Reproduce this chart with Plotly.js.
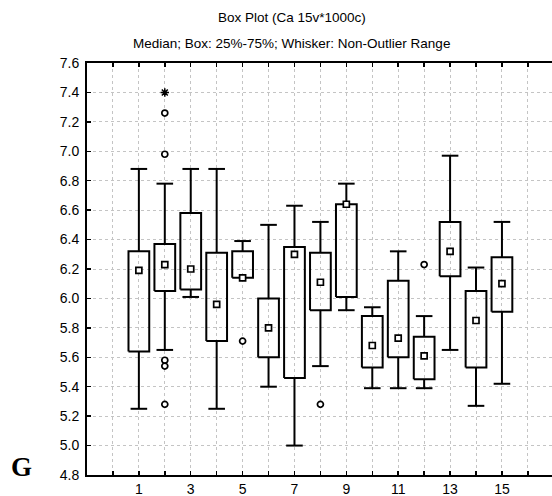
<!DOCTYPE html>
<html>
<head>
<meta charset="utf-8">
<script src="https://cdn.plot.ly/plotly-3.0.1.min.js"></script>
<style>
  html, body { margin: 0; padding: 0; background: #fff; }
  #chart { width: 552px; height: 496px; }
</style>
</head>
<body>
<div id="chart"></div>
<script>
// Ca 15v*1000c: box statistics per variable
const categories = [1, 2, 3, 4, 5, 6, 7, 8, 9, 10, 11, 12, 13, 14, 15];
const upperWhisker = [6.88, 6.78, 6.88, 6.88, 6.39, 6.50, 6.63, 6.52, 6.78, 5.94, 6.32, 5.88, 6.97, 6.21, 6.52];
const q3Values     = [6.32, 6.37, 6.58, 6.31, 6.32, 6.00, 6.35, 6.31, 6.64, 5.88, 6.12, 5.74, 6.52, 6.05, 6.28];
const medians      = [6.19, 6.23, 6.20, 5.96, 6.14, 5.80, 6.30, 6.11, 6.64, 5.68, 5.73, 5.61, 6.32, 5.85, 6.10];
const q1Values     = [5.64, 6.05, 6.06, 5.71, 6.14, 5.60, 5.46, 5.92, 6.01, 5.53, 5.60, 5.45, 6.15, 5.53, 5.91];
const lowerWhisker = [5.25, 5.65, 6.01, 5.25, 6.14, 5.40, 5.00, 5.54, 5.92, 5.39, 5.39, 5.39, 5.65, 5.27, 5.42];

// outliers (circles) and extremes (asterisks)
const outlierX = [2, 2, 2, 2, 2, 5, 8, 12];
const outlierY = [7.26, 6.98, 5.58, 5.54, 5.28, 5.71, 5.28, 6.23];
const extremeX = [2];
const extremeY = [7.40];

const yTicks = [4.8, 5.0, 5.2, 5.4, 5.6, 5.8, 6.0, 6.2, 6.4, 6.6, 6.8, 7.0, 7.2, 7.4, 7.6];
const xTicks = [0, 1, 2, 3, 4, 5, 6, 7, 8, 9, 10, 11, 12, 13, 14, 15, 16];

const BOX_HALF = 0.4;
const CAP_HALF = 0.32;

// Build box outlines, whiskers and caps as line paths in data coordinates
const boxX = [], boxY = [], whiskX = [], whiskY = [], capX = [], capY = [];
categories.forEach((c, i) => {
  boxX.push(c - BOX_HALF, c + BOX_HALF, c + BOX_HALF, c - BOX_HALF, c - BOX_HALF, null);
  boxY.push(q1Values[i], q1Values[i], q3Values[i], q3Values[i], q1Values[i], null);
  whiskX.push(c, c, null, c, c, null);
  whiskY.push(q3Values[i], upperWhisker[i], null, q1Values[i], lowerWhisker[i], null);
  capX.push(c - CAP_HALF, c + CAP_HALF, null);
  capY.push(upperWhisker[i], upperWhisker[i], null);
  if (lowerWhisker[i] < q1Values[i]) {
    capX.push(c - CAP_HALF, c + CAP_HALF, null);
    capY.push(lowerWhisker[i], lowerWhisker[i], null);
  }
});

const lineStyle = { color: '#000', width: 2 };
const traces = [
  { type: 'scatter', mode: 'lines', x: whiskX, y: whiskY, line: lineStyle, hoverinfo: 'skip' },
  { type: 'scatter', mode: 'lines', x: capX, y: capY, line: lineStyle, hoverinfo: 'skip' },
  { type: 'scatter', mode: 'lines', x: boxX, y: boxY, line: lineStyle, fill: 'none', hoverinfo: 'skip' },
  { type: 'scatter', mode: 'markers', x: categories, y: medians,
    marker: { symbol: 'square', size: 6, color: '#fff', line: { color: '#000', width: 1.7 } } },
  { type: 'scatter', mode: 'markers', x: outlierX, y: outlierY,
    marker: { symbol: 'circle', size: 6, color: '#fff', line: { color: '#000', width: 1.7 } } },
  { type: 'scatter', mode: 'markers', x: extremeX, y: extremeY,
    marker: { symbol: 'asterisk-open', size: 7, color: '#000', line: { color: '#000', width: 1.5 } } }
];

const tickFont = { family: 'Liberation Sans, Arial, sans-serif', size: 14, color: '#000' };
const titleFont = { family: 'Liberation Sans, Arial, sans-serif', size: 13.5, color: '#000' };

const layout = {
  width: 552,
  height: 496,
  margin: { l: 87, r: 0, t: 63, b: 21 },
  paper_bgcolor: '#fff',
  plot_bgcolor: '#fff',
  showlegend: false,
  xaxis: {
    range: [-1, 16.93],
    tickmode: 'array',
    tickvals: xTicks,
    ticktext: xTicks.map(v => (v % 2 === 1 ? String(v) : '')),
    ticks: 'inside',
    ticklen: 4,
    tickwidth: 1.5,
    tickcolor: '#000',
    showline: true,
    linecolor: '#000',
    linewidth: 2,
    mirror: 'ticks',
    showgrid: true,
    gridcolor: '#c4c4c4',
    griddash: 'dot',
    gridwidth: 1,
    zeroline: false,
    tickfont: tickFont,
    automargin: false
  },
  yaxis: {
    range: [4.8, 7.6],
    tickmode: 'array',
    tickvals: yTicks,
    ticktext: yTicks.map(v => v.toFixed(1)),
    ticks: 'inside',
    ticklen: 4,
    tickwidth: 1.5,
    tickcolor: '#000',
    showline: true,
    linecolor: '#000',
    linewidth: 2,
    mirror: false,
    showgrid: true,
    gridcolor: '#c4c4c4',
    griddash: 'dot',
    gridwidth: 1,
    zeroline: false,
    tickfont: tickFont,
    ticklabelstandoff: 3,
    automargin: false
  },
  annotations: [
    { xref: 'paper', yref: 'paper', x: (292 - 87) / 465, y: 1, yshift: 46,
      text: 'Box Plot (Ca 15v*1000c)', showarrow: false, xanchor: 'center', yanchor: 'middle',
      font: titleFont },
    { xref: 'paper', yref: 'paper', x: (291 - 87) / 465, y: 1, yshift: 20,
      text: 'Median; Box: 25%-75%; Whisker: Non-Outlier Range', showarrow: false,
      xanchor: 'center', yanchor: 'middle', font: titleFont },
    { xref: 'paper', yref: 'paper', x: 0, xshift: -66, y: 0, yshift: 8,
      text: '<b>G</b>', showarrow: false, xanchor: 'center', yanchor: 'middle',
      font: { family: 'Liberation Serif, Times New Roman, serif', size: 27, color: '#000' } }
  ]
};

Plotly.newPlot('chart', traces, layout, { staticPlot: true, displayModeBar: false });
</script>
</body>
</html>
